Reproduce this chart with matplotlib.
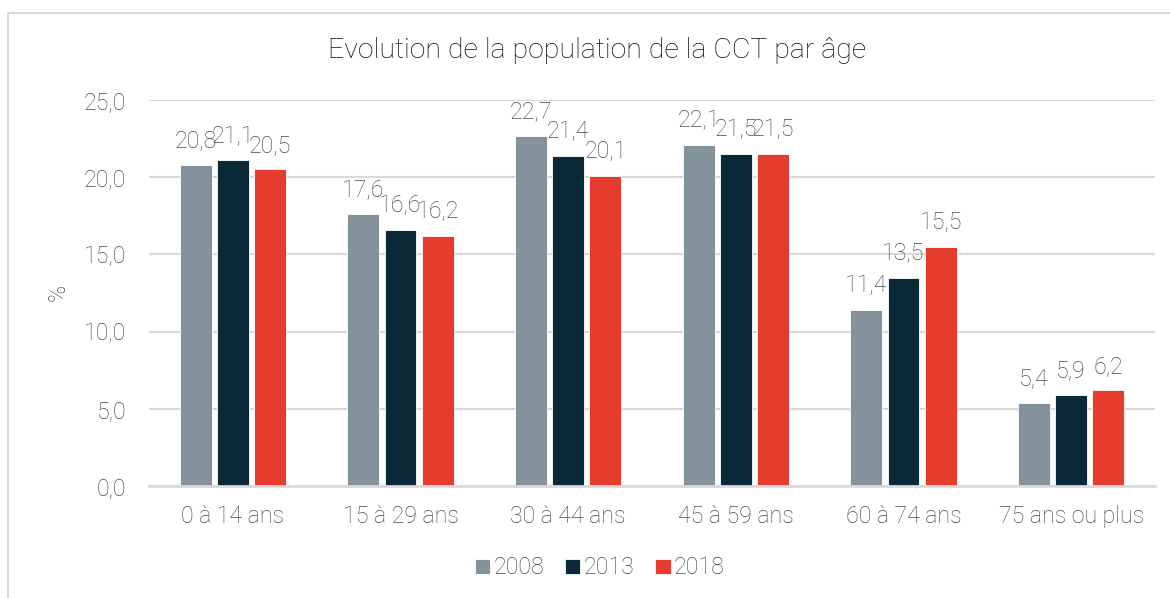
import matplotlib
matplotlib.use("Agg")
import matplotlib.pyplot as plt
from matplotlib.patches import Rectangle
import numpy as np

categories = ["0 à 14 ans", "15 à 29 ans", "30 à 44 ans", "45 à 59 ans", "60 à 74 ans", "75 ans ou plus"]
years = ["2008", "2013", "2018"]
v2008 = [20.8, 17.6, 22.7, 22.1, 11.4, 5.4]
v2013 = [21.1, 16.6, 21.4, 21.5, 13.5, 5.9]
v2018 = [20.5, 16.2, 20.1, 21.5, 15.5, 6.2]
colors = ["#84939B", "#0A2937", "#E53C2E"]
yticks = [0, 5, 10, 15, 20, 25]

plt.rcParams['font.family'] = ['Roboto', 'DejaVu Sans']
plt.rcParams['font.weight'] = 'light'
txt = "#4a4a4a"
fs = 16.7

fig = plt.figure(figsize=(11.70, 5.98), dpi=100)
ax = fig.add_axes([149/1170, 1 - 486/598, (1155-149)/1170, (486-100)/598])

x = np.arange(len(categories))
w = 0.19
off = 0.222
series = [v2008, v2013, v2018]
for i, (vals, c, lab) in enumerate(zip(series, colors, years)):
    bars = ax.bar(x + (i - 1) * off, vals, width=w, color=c, label=lab,
                  edgecolor="white", linewidth=0.6, zorder=3)
    for b, v in zip(bars, vals):
        ax.annotate(f"{v:.1f}".replace(".", ","), (b.get_x() + b.get_width()/2, v),
                    xytext=(0, 9), textcoords="offset points", ha="center", va="bottom",
                    fontsize=fs, color=txt, fontweight="light", zorder=4)

ax.set_xlim(-0.5, len(categories) - 0.5)
ax.set_ylim(0, 25)
ax.set_yticks(yticks)
ax.set_yticklabels([f"{t:.1f}".replace(".", ",") for t in yticks])
ax.set_xticks(x)
ax.set_xticklabels(categories)
ax.tick_params(axis="both", length=0, labelsize=fs, labelcolor=txt)
ax.tick_params(axis="y", pad=16.5)
ax.tick_params(axis="x", pad=14)
ax.grid(axis="y", color="#D9D9D9", linewidth=1.5, zorder=0)
for s in ["top", "right", "left"]:
    ax.spines[s].set_visible(False)
ax.spines["bottom"].set_color("#D9D9D9")
ax.spines["bottom"].set_linewidth(2)
ax.spines["bottom"].set_zorder(3.5)

fig.text(58/1170, 1 - 292/598, "%", rotation=90, ha="center", va="center",
         fontsize=fs, color=txt, fontweight="light")
fig.text(597/1170, 1 - 51/598, "Evolution de la population de la CCT par âge",
         ha="center", va="center", fontsize=20.5, color="#0d0d0d", fontweight="light")

leg = fig.legend(loc="center", bbox_to_anchor=(600/1170, 1 - 568/598), ncol=3, frameon=False,
                 fontsize=fs, handlelength=0.65, handleheight=0.65, handletextpad=0.15,
                 columnspacing=0.9)
for t in leg.get_texts():
    t.set_color(txt)

fig.patches.append(Rectangle((8/1170, -0.1), 1.2, 1 - 13/598 + 0.1, transform=fig.transFigure,
                             fill=False, edgecolor="#D9D9D9", linewidth=1.5))

fig.savefig("out.png", dpi=100)
